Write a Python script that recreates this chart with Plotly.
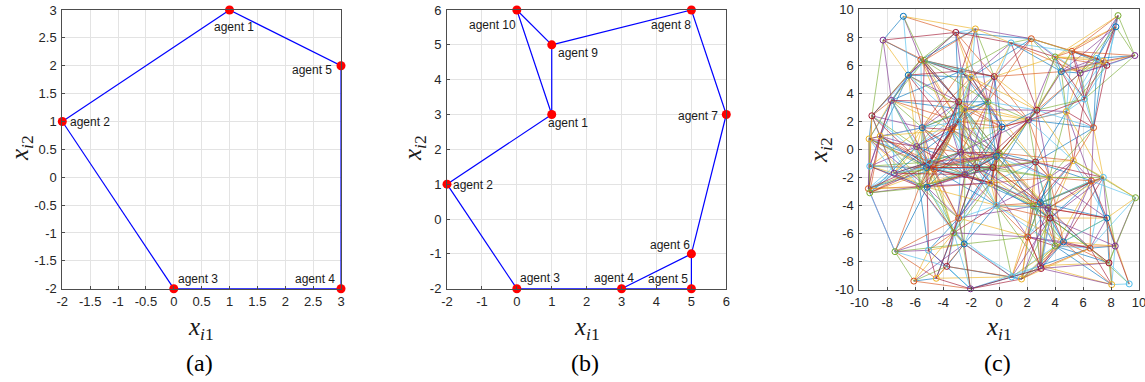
import math
import plotly.graph_objects as go

# ---------------- data ----------------
# panel (a)
a_x = [1, -2, 0, 3, 3]
a_y = [3, 1, -2, -2, 2]
a_names = ["agent 1", "agent 2", "agent 3", "agent 4", "agent 5"]
a_edges = [(1, 5), (5, 4), (4, 3), (3, 2), (2, 1)]

# panel (b)
b_x = [1, -2, 0, 3, 5, 5, 6, 5, 1, 0]
b_y = [3, 1, -2, -2, -2, -1, 3, 6, 5, 6]
b_names = ["agent %d" % i for i in range(1, 11)]
b_edges = [(1, 2), (2, 3), (3, 4), (4, 5), (5, 6), (4, 6), (6, 7), (7, 8),
           (8, 9), (9, 10), (10, 1), (9, 1)]

# panel (c): node positions
c_x = [-6.85, -8.3, -3.1, -1.7, 0.85, 2.3, 8.5, 8.35, 9.7, 7.7, 7.45, 7.0, 5.2, 4.0,
       4.45, 5.8, -0.35, -2.0, -2.7, -5.6, -5.35, -6.5, -7.7, -9.1, -9.3, -9.25,
       -9.35, -9.25, -5.5, -5.9, -2.9, -2.45, -2.9, -3.4, -0.8, 0.2, 2.1, 2.7, 4.8,
       6.1, 6.75, 0.0, -0.2, -2.75, 2.6, 5.3, -5.0, -4.65, -5.7, -5.15, -2.45, -1.6,
       -0.6, 7.45, 6.6, 9.75, 7.7, 8.3, 7.85, 8.05, 9.3, 6.5, 4.0, 4.6, 2.95, 3.0,
       1.6, 0.9, 2.05, 2.45, 2.95, 3.5, 3.65, 3.6, -0.2, -2.9, -3.25, -2.5, -2.05,
       -3.75, -4.5, -5.05, -6.1, -7.45, -5.2, -7.5, -0.45, -8.5]
c_y = [9.5, 7.8, 8.35, 8.6, 7.6, 7.9, 9.55, 8.75, 6.7, 6.0, 6.3, 6.5, 7.0, 6.6,
       5.55, 5.45, 5.2, 5.15, 5.6, 6.4, 6.35, 5.3, 3.5, 2.4, 0.75, -1.2,
       -2.8, -3.1, 1.55, 0.2, 3.4, 2.85, 2.0, 1.4, 3.4, 1.6, 2.1, 2.8, 2.7,
       3.6, 1.55, -0.25, -0.5, -0.2, -0.9, -0.8, -0.9, -1.4, -2.65, -2.7, -1.8, -1.3,
       -2.4, -2.0, -2.25, -3.45, -4.9, -6.9, -8.1, -9.65, -9.6, -7.05, -6.9, -6.6, -8.3, -8.5,
       -9.25, -9.1, -6.25, -4.05, -3.8, -4.2, -4.9, -2.0, -4.0, -4.9, -5.95, -6.75, -9.95,
       -8.35, -9.2, -7.2, -9.4, -7.3, -1.3, -1.7, -1.3, 0.95]
comm_range = 5.5

# tick labels
a_xticks = [-2, -1.5, -1, -0.5, 0, 0.5, 1, 1.5, 2, 2.5, 3]
a_yticks = [-2, -1.5, -1, -0.5, 0, 0.5, 1, 1.5, 2, 2.5, 3]
b_xticks = [-2, -1, 0, 1, 2, 3, 4, 5, 6]
b_yticks = [-2, -1, 0, 1, 2, 3, 4, 5, 6]
c_ticks = [-10, -8, -6, -4, -2, 0, 2, 4, 6, 8, 10]

MATLAB = ["#0072BD", "#D95319", "#EDB120", "#7E2F8E", "#77AC30", "#4DBEEE", "#A2142F"]

def lab(v):
    return "%g" % v

W, H = 1145, 382
def fx(p):
    return p / W
def fy(p):
    return 1 - p / H

fig = go.Figure()

# ---- panel (a)
for (i, j) in a_edges:
    fig.add_trace(go.Scatter(x=[a_x[i-1], a_x[j-1]], y=[a_y[i-1], a_y[j-1]], mode="lines",
                             line=dict(color="#0000FF", width=1.2), xaxis="x", yaxis="y",
                             showlegend=False, cliponaxis=False, hoverinfo="skip"))
fig.add_trace(go.Scatter(x=a_x, y=a_y, mode="markers", marker=dict(color="#FF0000", size=9),
                         xaxis="x", yaxis="y", showlegend=False, cliponaxis=False))

# ---- panel (b)
for (i, j) in b_edges:
    fig.add_trace(go.Scatter(x=[b_x[i-1], b_x[j-1]], y=[b_y[i-1], b_y[j-1]], mode="lines",
                             line=dict(color="#0000FF", width=1.2), xaxis="x2", yaxis="y2",
                             showlegend=False, cliponaxis=False, hoverinfo="skip"))
fig.add_trace(go.Scatter(x=b_x, y=b_y, mode="markers", marker=dict(color="#FF0000", size=9),
                         xaxis="x2", yaxis="y2", showlegend=False, cliponaxis=False))

# ---- panel (c)
n = len(c_x)
edges = []
for i in range(n):
    for j in range(i + 1, n):
        if math.hypot(c_x[i] - c_x[j], c_y[i] - c_y[j]) <= comm_range:
            edges.append((i, j))
# interleave colours: blocks of edges, one trace per colour per block
block = 70
for b0 in range(0, len(edges), block):
    for c, col in enumerate(MATLAB):
        gx, gy = [], []
        for k in range(b0, min(b0 + block, len(edges))):
            if k % len(MATLAB) == c:
                i, j = edges[k]
                gx += [c_x[i], c_x[j], None]
                gy += [c_y[i], c_y[j], None]
        if gx:
            fig.add_trace(go.Scatter(x=gx, y=gy, mode="lines",
                                     line=dict(color=col, width=0.7), opacity=0.9,
                                     xaxis="x3", yaxis="y3", showlegend=False,
                                     cliponaxis=False, hoverinfo="skip"))
fig.add_trace(go.Scatter(x=c_x, y=c_y, mode="markers",
                         marker=dict(symbol="circle-open", size=6,
                                     color=[MATLAB[(3 * k) % 7] for k in range(n)],
                                     line=dict(width=1)),
                         xaxis="x3", yaxis="y3", showlegend=False, cliponaxis=False,
                         hoverinfo="skip"))

axis_common = dict(showgrid=True, gridcolor="#E3E3E3", gridwidth=1, zeroline=False,
                   showline=True, linecolor="#4D4D4D", linewidth=1, mirror=True,
                   ticks="inside", ticklen=3, tickcolor="#4D4D4D", automargin=False,
                   ticklabeloverflow="allow",
                   tickfont=dict(family="Liberation Sans, Arial", size=13, color="#262626"),
                   fixedrange=True)

fig.update_layout(
    template="none",
    width=W, height=H, margin=dict(l=0, r=0, t=0, b=0, autoexpand=False),
    paper_bgcolor="white", plot_bgcolor="white", showlegend=False,
    xaxis=dict(domain=[fx(62.3), fx(341)], range=[-2, 3], anchor="y",
               tickvals=a_xticks, ticktext=[lab(v) for v in a_xticks], ticklabelstandoff=1, **axis_common),
    yaxis=dict(domain=[fy(288.7), fy(10)], range=[-2, 3], anchor="x",
               tickvals=a_yticks, ticktext=[lab(v) for v in a_yticks], ticklabelstandoff=2, **axis_common),
    xaxis2=dict(domain=[fx(447), fx(726.3)], range=[-2, 6], anchor="y2",
                tickvals=b_xticks, ticktext=[lab(v) for v in b_xticks], ticklabelstandoff=1, **axis_common),
    yaxis2=dict(domain=[fy(288.7), fy(10)], range=[-2, 6], anchor="x2",
                tickvals=b_yticks, ticktext=[lab(v) for v in b_yticks], ticklabelstandoff=2, **axis_common),
    xaxis3=dict(domain=[fx(859.3), fx(1139)], range=[-10, 10], anchor="y3",
                tickvals=c_ticks, ticktext=[lab(v) for v in c_ticks], ticklabelstandoff=1, **axis_common),
    yaxis3=dict(domain=[fy(289.5), fy(9.3)], range=[-10, 10], anchor="x3",
                tickvals=c_ticks, ticktext=[lab(v) for v in c_ticks], ticklabelstandoff=2, **axis_common),
)

ann = []
lab_font = dict(family="Liberation Sans, Arial", size=12, color="#1A1A1A")
a_lab_pos = [("center", 4, -17), ("left", 6, -1), ("left", 2, 10), ("right", -4, 10), ("right", -7, -4)]
for k, (xa, xs, ys) in enumerate(a_lab_pos):
    ann.append(dict(x=a_x[k], y=a_y[k], xref="x", yref="y", text=a_names[k], showarrow=False,
                    xanchor=xa, yanchor="middle", xshift=xs, yshift=ys, font=lab_font))
b_lab_pos = [("left", -6, -8.5), ("left", 4, -1), ("left", 1, 11), ("center", -7.5, 11),
             ("right", -1, 10), ("right", 1, 9), ("right", -6, -1), ("right", 2, -15),
             ("left", 4, -8), ("right", 1.6, -15)]
for k, (xa, xs, ys) in enumerate(b_lab_pos):
    ann.append(dict(x=b_x[k], y=b_y[k], xref="x2", yref="y2", text=b_names[k], showarrow=False,
                    xanchor=xa, yanchor="middle", xshift=xs, yshift=ys, font=lab_font))

math_font = dict(family="Liberation Serif, Times New Roman", size=25, color="#1A1A1A")
cap_font = dict(family="Liberation Serif, Times New Roman", size=24, color="black")
xl = "<i>x</i><sub><i>i</i>1</sub>"
yl = "<i>x</i><sub><i>i</i>2</sub>"
for cx, ylx, yly, cap in [(201, 21, 148, "(a)"), (587, 414, 148, "(b)"), (999, 820, 150, "(c)")]:
    ann.append(dict(x=fx(cx), y=fy(328), xref="paper", yref="paper", text=xl, showarrow=False,
                    xanchor="center", yanchor="middle", font=math_font))
    ann.append(dict(x=fx(ylx), y=fy(yly), xref="paper", yref="paper", text=yl, showarrow=False,
                    xanchor="center", yanchor="middle", textangle=-90, font=math_font))
    ann.append(dict(x=fx(cx - 2), y=fy(363), xref="paper", yref="paper", text=cap, showarrow=False,
                    xanchor="center", yanchor="middle", font=cap_font))
fig.update_layout(annotations=ann)

fig.write_html("out.html", config={"displayModeBar": False, "staticPlot": True},
               post_script="document.body.style.margin='0px';document.body.style.overflow='hidden';")
